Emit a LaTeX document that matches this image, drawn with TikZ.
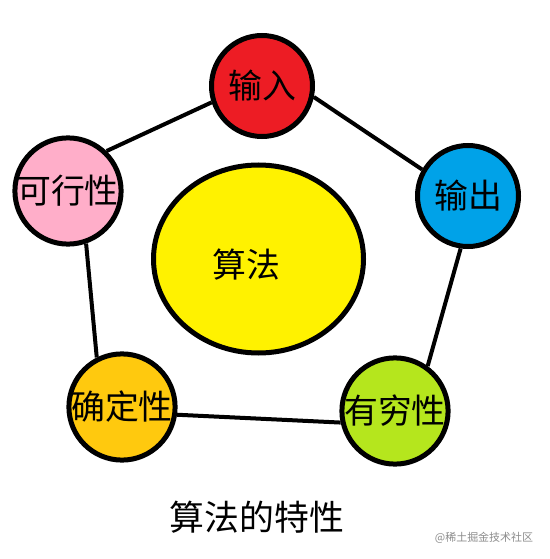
\documentclass[tikz,border=0pt]{standalone}
\usepackage{fontspec}
\usetikzlibrary{shapes.geometric}
\newfontfamily\cjk{Noto Sans CJK SC}
\definecolor{pred}{HTML}{ED1C24}
\definecolor{pblue}{HTML}{00A2E8}
\definecolor{pgreen}{HTML}{B5E61D}
\definecolor{porange}{HTML}{FFC90E}
\definecolor{ppink}{HTML}{FFAEC9}
\definecolor{pyellow}{HTML}{FFF200}
\tikzset{
  ball/.style={circle, draw=black, line width=5bp, minimum size=101bp, inner sep=0pt,
    font=\cjk\fontsize{34}{34}\selectfont, text=black},
  link/.style={line width=4bp, black},
}
\begin{document}
\begin{tikzpicture}[x=1bp,y=-1bp]
\useasboundingbox (0,0) rectangle (550,559);
\fill[white] (0,0) rectangle (550,559);
\node[ellipse, draw=black, line width=5bp, fill=pyellow, minimum width=210bp, minimum height=188bp, inner sep=0pt] (alg) at (258.5,259) {};
\node[font=\cjk\fontsize{34}{34}\selectfont, inner sep=0pt] (algt) at (246,265) {算法};
\node[ball, fill=pred] (in) at (262,86) {输入};
\node[ball, fill=pblue] (out) at (468,196) {输出};
\node[ball, fill=pgreen] (fin) at (395,411) {有穷性};
\node[ball, fill=porange] (det) at (122,407) {确定性};
\node[ball, fill=ppink] (fea) at (68,191) {可行性};
\draw[link] (fea.46) -- (in.198);
\draw[link] (in.348) -- (out.150);
\draw[link] (out.262) -- (fin.54);
\draw[link] (fin.192) -- (det.352);
\draw[link] (det.117) -- (fea.289);
\node[font=\cjk\fontsize{35}{35}\selectfont, inner sep=0pt] (cap) at (257,517) {算法的特性};
\node[font=\cjk\fontsize{11}{11}\selectfont, text=black!45, inner sep=0pt] (wm) at (484,538) {@稀土掘金技术社区};
\end{tikzpicture}
\end{document}
